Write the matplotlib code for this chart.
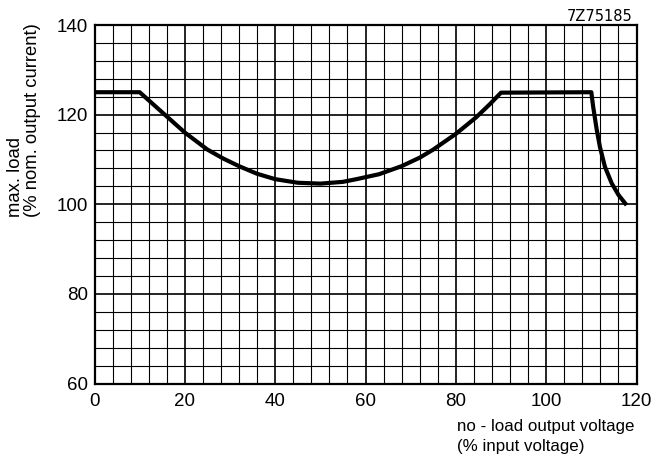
import matplotlib
matplotlib.use("Agg")
import matplotlib.pyplot as plt
from matplotlib.ticker import MultipleLocator

# data
x_vals = [0, 10, 16, 20, 25, 28.5, 32, 36, 40, 45, 50, 55, 58, 63, 68, 72, 75,
          80, 84.5, 87.6, 90, 110, 110.4, 111.2, 111.9, 113, 114.5, 116, 117.8]
y_vals = [125, 125, 119.6, 116, 112.2, 110.2, 108.5, 106.8, 105.6, 104.8, 104.6,
          105.0, 105.6, 106.7, 108.5, 110.4, 112.2, 115.7, 119.4, 122.4, 124.9, 125,
          121.8, 116.6, 112.8, 108.4, 104.7, 102.1, 99.8]
x_ticks = [0, 20, 40, 60, 80, 100, 120]
y_ticks = [60, 80, 100, 120, 140]

FONT = ['Liberation Sans', 'DejaVu Sans']
plt.rcParams['font.family'] = FONT

fig = plt.figure(figsize=(6.53, 4.62), dpi=100)
ax = fig.add_axes([94.5/653, 1-383.5/462, (636.5-94.5)/653, (383.5-25)/462])

ax.set_xlim(0, 120)
ax.set_ylim(60, 140)
ax.set_xticks(x_ticks)
ax.set_yticks(y_ticks)
ax.xaxis.set_minor_locator(MultipleLocator(4))
ax.yaxis.set_minor_locator(MultipleLocator(4))
ax.grid(which='minor', color='black', linewidth=0.8)
ax.grid(which='major', color='black', linewidth=1.2)
ax.set_axisbelow(True)
ax.tick_params(which='both', length=0)
ax.tick_params(axis='x', pad=6.5, labelsize=13.5)
ax.tick_params(axis='y', pad=4.5, labelsize=13.5)
for s in ax.spines.values():
    s.set_linewidth(1.6)

ax.plot(x_vals, y_vals, color='black', linewidth=3, solid_joinstyle='round',
        solid_capstyle='butt', zorder=5)

fig.text(24/653, 1-217/462, "max. load\n(% nom. output current)", rotation=90,
         ha='center', va='bottom', multialignment='left', fontsize=13.3,
         linespacing=1.0)
fig.text(456.7/653, 1-419/462, "no - load output voltage\n(% input voltage)",
         ha='left', va='top', multialignment='left', fontsize=12.2,
         linespacing=1.4)
fig.text(633/653, 1-16.5/462, "7Z75185", ha='right', va='center', fontsize=10.5,
         family=['DejaVu Sans'])

fig.savefig("out.png", dpi=100)
